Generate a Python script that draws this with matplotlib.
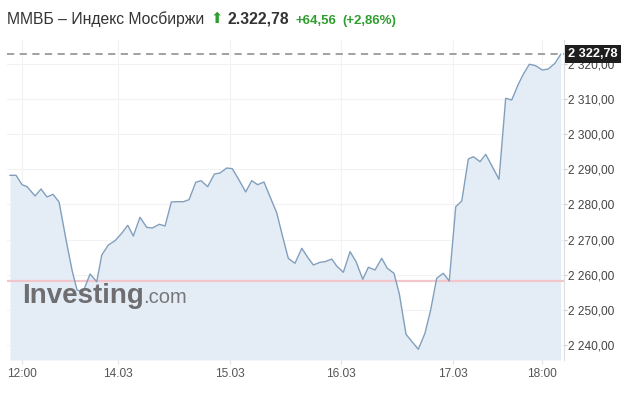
import matplotlib
matplotlib.use("Agg")
import matplotlib.pyplot as plt

plt.rcParams["font.family"] = ["Liberation Sans", "DejaVu Sans"]

# DATA (x in trading days from 14.03, y = index value)

t = [-0.969, -0.915, -0.861, -0.816, -0.744, -0.691, -0.637, -0.583, -0.529,
     -0.466, -0.413, -0.368, -0.314, -0.251, -0.191, -0.146, -0.087, -0.027,
     0.033, 0.087, 0.137, 0.197, 0.257, 0.308, 0.370, 0.422, 0.478, 0.526,
     0.586, 0.637, 0.697, 0.744, 0.804, 0.864, 0.915, 0.975, 1.025, 1.085,
     1.145, 1.199, 1.253, 1.309, 1.363, 1.423, 1.475, 1.527, 1.587, 1.648,
     1.707, 1.752, 1.812, 1.857, 1.917, 1.961, 2.021, 2.081, 2.135, 2.195,
     2.245, 2.305, 2.365, 2.415, 2.475, 2.523, 2.583, 2.637, 2.693, 2.753,
     2.804, 2.858, 2.917, 2.971, 3.029, 3.083, 3.142, 3.187, 3.247, 3.298,
     3.417, 3.477, 3.531, 3.590, 3.635, 3.689, 3.746, 3.805, 3.859, 3.919,
     3.970]

price = [2288.31, 2288.31, 2285.64, 2285.07, 2282.42, 2284.41, 2282.14, 2282.90,
         2280.71, 2269.90, 2261.35, 2255.66, 2255.09, 2260.21, 2258.02, 2265.62,
         2268.47, 2269.69, 2271.80, 2274.08, 2271.03, 2276.36, 2273.51, 2273.31,
         2274.36, 2273.88, 2280.71, 2280.80, 2280.80, 2281.37, 2286.32, 2286.78,
         2285.07, 2288.68, 2288.97, 2290.39, 2290.19, 2286.98, 2283.56, 2286.78,
         2285.64, 2286.41, 2282.22, 2277.67, 2271.03, 2264.68, 2263.26, 2267.53,
         2264.68, 2262.78, 2263.54, 2263.72, 2264.48, 2262.49, 2260.70, 2266.56,
         2263.72, 2258.70, 2262.12, 2261.35, 2264.68, 2261.84, 2260.41, 2254.52,
         2243.05, 2240.94, 2238.78, 2243.33, 2249.96, 2258.99, 2260.41, 2258.22,
         2279.37, 2281.00, 2292.95, 2293.61, 2292.19, 2294.29, 2287.17, 2310.24,
         2309.75, 2314.22, 2317.07, 2319.92, 2319.52, 2318.29, 2318.58, 2320.20,
         2322.78]

tick_pos = [-0.861, 0, 1, 2, 3, 3.803]
tick_labels = ["12:00", "14.03", "15.03", "16.03", "17.03", "18:00"]
y_ticks = [2240, 2250, 2260, 2270, 2280, 2290, 2300, 2310, 2320]

last_price = 2322.78
prev_close = 2258.22

# FIGURE

W, H = 632, 403
fig = plt.figure(figsize=(W / 100, H / 100), dpi=100)
ax = fig.add_axes([7 / W, 1 - 360 / H, 557 / W, 320 / H])

y_bottom = 2240 - 15 / 3.5125
y_top = 2240 + 305 / 3.5125
ax.set_xlim(-0.996, 4.0)
ax.set_ylim(y_bottom, y_top)

ax.fill_between(t, price, y_bottom, color="#e4edf5", lw=0, zorder=1)
ax.plot(t, price, color="#819fbd", lw=1, zorder=3)

ax.axhline(prev_close, color="#f3c6cb", lw=1.6, zorder=2)
ax.axhline(last_price, color="#9a9a9a", lw=1.3, ls=(0, (4, 3)), zorder=4)

# AXES STYLE

for side in ["top", "left", "bottom"]:
    ax.spines[side].set_visible(False)
ax.spines["right"].set_color("#dddddd")

ax.yaxis.tick_right()
ax.set_yticks(y_ticks)
ax.set_yticklabels([f"{v:,.2f}".replace(",", " ").replace(".", ",") for v in y_ticks])
ax.tick_params(axis="y", length=2, width=0.8, color="#cccccc", pad=0.8,
               labelsize=8.6, labelcolor="#444444")

ax.set_xticks(tick_pos)
ax.set_xticklabels(tick_labels)
ax.tick_params(axis="x", length=3, width=0.8, color="#e3e3e3", pad=3,
               labelsize=8.6, labelcolor="#555555")

ax.grid(True, color="#f2f2f2", lw=0.8, zorder=0)
ax.set_axisbelow(True)

# LAST PRICE LABEL

ax.text(1.0075, last_price, "2 322,78", transform=ax.get_yaxis_transform(),
        ha="left", va="center", color="white", fontsize=9.2, fontweight="bold",
        bbox=dict(boxstyle="square,pad=0.22", fc="#1e1e1e", ec="none"),
        clip_on=False, zorder=10)

# WATERMARK

fig.text(22 / W, 1 - 303 / H, "Investing", fontsize=20, fontweight="bold",
         color="#6e6e70", va="baseline", ha="left", zorder=20)
fig.text(143 / W, 1 - 303 / H, ".com", fontsize=14.5,
         color="#77777a", va="baseline", ha="left", zorder=20)

# HEADER

fig.text(7 / W, 1 - 24 / H, "ММВБ – Индекс Мосбиржи", fontsize=11.3,
         color="#333333", va="baseline", ha="left")
fig.text(210 / W, 1 - 23 / H, "⬆", fontsize=10.5, color="#2f9e2f",
         family=["DejaVu Sans"], va="baseline", ha="left")
fig.text(227 / W, 1 - 24 / H, "2.322,78", fontsize=11.3, fontweight="bold",
         color="#333333", va="baseline", ha="left")
fig.text(295 / W, 1 - 24 / H, "+64,56", fontsize=9.5, fontweight="bold",
         color="#2f9e2f", va="baseline", ha="left")
fig.text(342 / W, 1 - 24 / H, "(+2,86%)", fontsize=9.5, fontweight="bold",
         color="#2f9e2f", va="baseline", ha="left")

fig.savefig("out.png", dpi=100)
